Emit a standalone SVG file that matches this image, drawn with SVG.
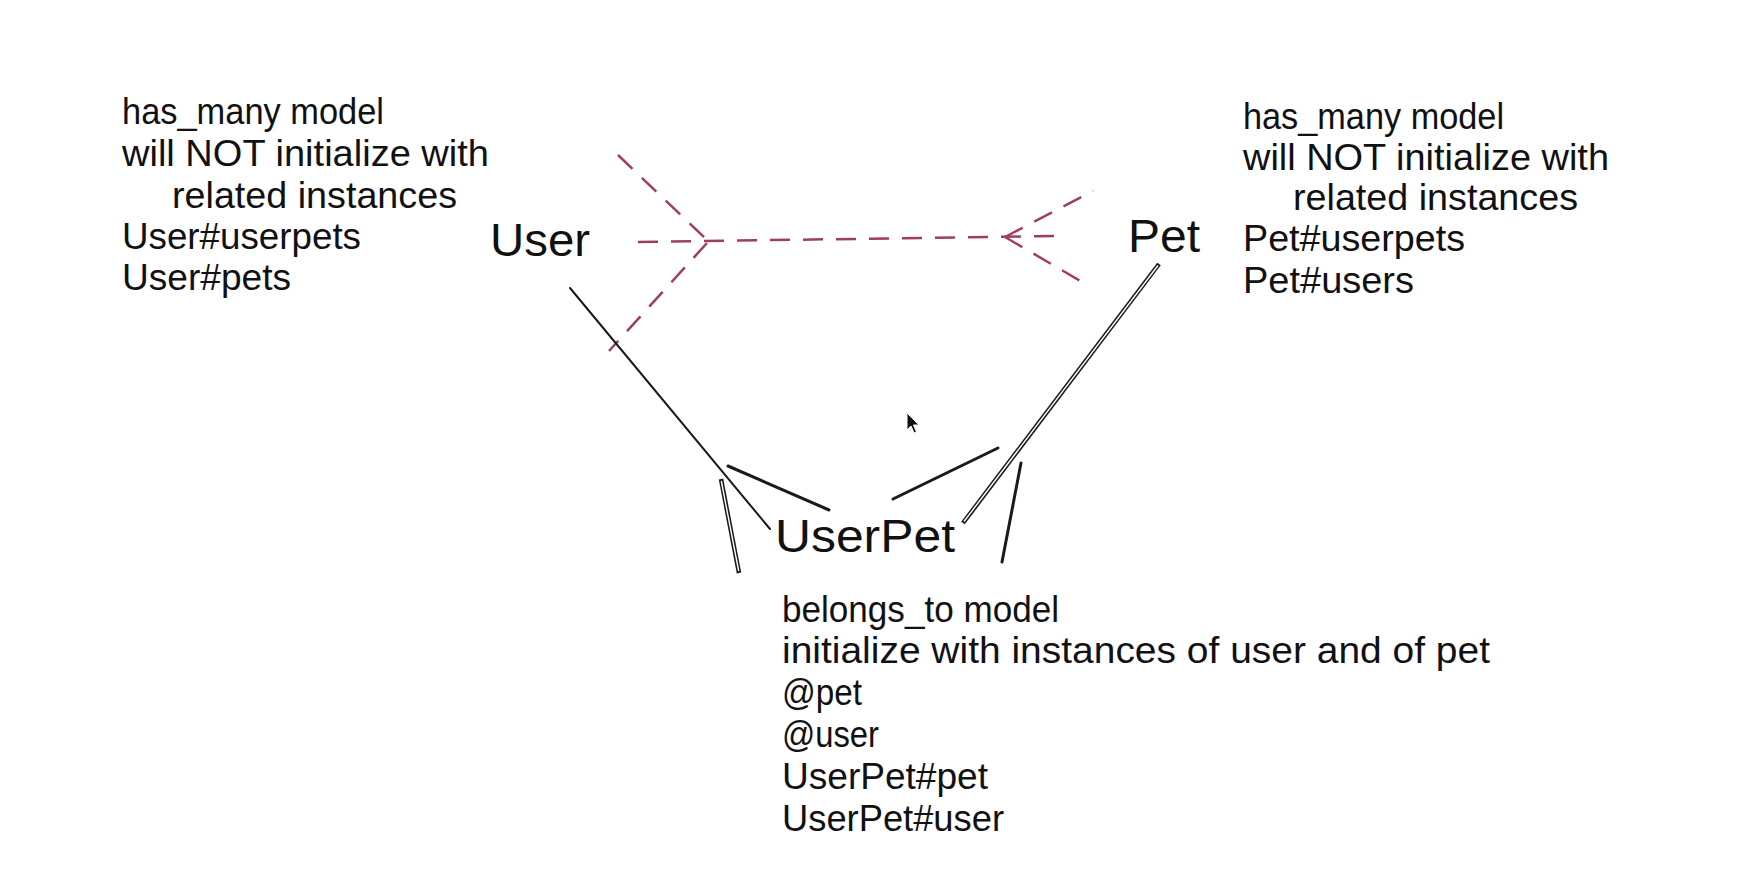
<svg xmlns="http://www.w3.org/2000/svg" width="1744" height="888" viewBox="0 0 1744 888">
  <style>
    .txt { font-family: "Liberation Sans", Arial, sans-serif; font-size: 37px; fill: #111; }
    .lbl { font-family: "Liberation Sans", Arial, sans-serif; font-size: 46px; fill: #111; }
    .dash { stroke: #9e3d62; stroke-width: 2.5; stroke-dasharray: 20 13; fill: none; stroke-linecap: butt; }
    .solid { stroke: #1a1a1a; stroke-width: 2; fill: none; stroke-linecap: round; }
    .thick { stroke: #1a1a1a; stroke-width: 3; fill: none; stroke-linecap: round; }
    .dbl-o { stroke: #1a1a1a; stroke-width: 4.5; fill: none; stroke-linecap: butt; }
    .dbl-i { stroke: #ffffff; stroke-width: 1.4; fill: none; stroke-linecap: butt; }
  </style>
  <rect width="1744" height="888" fill="#ffffff"/>

  <g id="connectors">
    <!-- User <-> Pet many-to-many (dashed, crow's feet both ends) -->
    <g id="user-pet">
      <line class="dash" x1="638" y1="242" x2="1060" y2="236"/>
      <line class="dash" x1="618" y1="155" x2="707" y2="240"/>
      <line class="dash" x1="707" y1="243" x2="609" y2="351"/>
      <line class="dash" x1="1005" y1="237" x2="1093" y2="191"/>
      <line class="dash" x1="1005" y1="237" x2="1089" y2="286"/>
    </g>
    <!-- User -> UserPet -->
    <g id="user-userpet">
      <line class="solid" x1="570" y1="288" x2="770" y2="529"/>
      <line class="thick" x1="728" y1="466" x2="829" y2="510"/>
      <line class="dbl-o" x1="721" y1="479" x2="739" y2="573"/>
      <line class="dbl-i" x1="721.3" y1="481" x2="738.7" y2="571"/>
    </g>
    <!-- Pet -> UserPet -->
    <g id="pet-userpet">
      <line class="dbl-o" x1="1159" y1="264" x2="963" y2="523"/>
      <line class="dbl-i" x1="1158" y1="265.5" x2="964" y2="521.5"/>
      <line class="thick" x1="893" y1="499" x2="998" y2="448"/>
      <line class="thick" x1="1021" y1="463" x2="1002" y2="562"/>
    </g>
  </g>

  <g id="node-user">
    <text class="lbl" x="490" y="256" textLength="100" lengthAdjust="spacingAndGlyphs">User</text>
    <text class="txt" x="122" y="124" textLength="262" lengthAdjust="spacingAndGlyphs">has_many model</text>
    <text class="txt" x="122" y="166" textLength="367" lengthAdjust="spacingAndGlyphs">will NOT initialize with</text>
    <text class="txt" x="172" y="208" textLength="285" lengthAdjust="spacingAndGlyphs">related instances</text>
    <text class="txt" x="122" y="249" textLength="239" lengthAdjust="spacingAndGlyphs">User#userpets</text>
    <text class="txt" x="122" y="290" textLength="169" lengthAdjust="spacingAndGlyphs">User#pets</text>
  </g>

  <g id="node-pet">
    <text class="lbl" x="1128" y="252" textLength="72" lengthAdjust="spacingAndGlyphs">Pet</text>
    <text class="txt" x="1243" y="129" textLength="261" lengthAdjust="spacingAndGlyphs">has_many model</text>
    <text class="txt" x="1243" y="170" textLength="366" lengthAdjust="spacingAndGlyphs">will NOT initialize with</text>
    <text class="txt" x="1293" y="210" textLength="285" lengthAdjust="spacingAndGlyphs">related instances</text>
    <text class="txt" x="1243" y="251" textLength="222" lengthAdjust="spacingAndGlyphs">Pet#userpets</text>
    <text class="txt" x="1243" y="293" textLength="171" lengthAdjust="spacingAndGlyphs">Pet#users</text>
  </g>

  <g id="node-userpet">
    <text class="lbl" x="775" y="552" textLength="180" lengthAdjust="spacingAndGlyphs">UserPet</text>
    <text class="txt" x="782" y="622" textLength="277" lengthAdjust="spacingAndGlyphs">belongs_to model</text>
    <text class="txt" x="782" y="663" textLength="708" lengthAdjust="spacingAndGlyphs">initialize with instances of user and of pet</text>
    <text class="txt" x="782" y="705" textLength="80" lengthAdjust="spacingAndGlyphs">@pet</text>
    <text class="txt" x="782" y="747" textLength="97" lengthAdjust="spacingAndGlyphs">@user</text>
    <text class="txt" x="782" y="789" textLength="206" lengthAdjust="spacingAndGlyphs">UserPet#pet</text>
    <text class="txt" x="782" y="831" textLength="222" lengthAdjust="spacingAndGlyphs">UserPet#user</text>
  </g>

  <!-- mouse pointer -->
  <polygon points="907,413 907,430 911,426 914,433 916.5,432 913.5,425 919,425" fill="#111" stroke="#fff" stroke-width="1"/>
</svg>
